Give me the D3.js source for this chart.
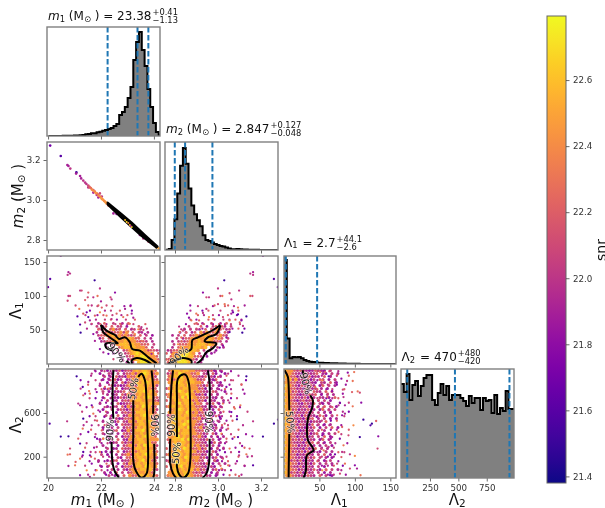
<!DOCTYPE html>
<html><head><meta charset="utf-8">
<script src="https://cdn.jsdelivr.net/npm/d3@7/dist/d3.min.js"></script>
<style>html,body{margin:0;padding:0;background:#fff;overflow:hidden}svg{display:block;font-family:"DejaVu Sans",sans-serif;filter:blur(.35px)}</style>
</head><body><svg id="c" width="605" height="508"></svg>
<script>
// ---------- tick labels ----------
const m1Ticks=[20,22,24], m2Ticks=[2.8,3.0,3.2], l1Ticks=[50,100,150], l2Ticks=[200,600], l2BottomTicks=[250,500,750];
const snrTicks=[21.4,21.6,21.8,22.0,22.2,22.4,22.6];
// ---------- histogram bin heights ----------
const m1Hist=[.1,.1,.1,.1,.1,.2,.2,.3,.3,.4,.5,.7,1,1.7,2,2.7,2.7,3.7,4.3,5.3,6,7,8,10,12,21,24,29,38,49,76,94,104,86,70,47,29,13,4,1];
const m2Hist=[.3,1,10,31,57,85,103,87,62,45,36,30,24,15,10,9,7.5,6,5,4,3.5,2.5,1.5,.7,.7,1,.7,.5,.4,.3,.3,.3,.3,.1,.1,.1,.1,.1,.1,.1];
const l1Hist=[105,25.7,5.7,7,6.7,7,5.7,4,3,2.3,2,1.7,1.3,1.3,1,1,.8,.7,.7,.6,.5,.4,.3,.3,.2,.2,.2,.1,.1,.1,0,0,0,0,0,0,0,0,0,0];
const l2Hist=[94,86,104,78,93,97,82,92,100,103,103,78,73,85,94,83,92,78,83,83,83,80,77,72,82,75,80,80,68,80,77,78,65,83,64,70,67,87,69,69];
// ---------- credible-interval markers ----------
const m1Quant=[22.25,23.38,23.79], m2Quant=[2.799,2.847,2.974], l1Quant=[.1,2.7,46.8], l2Quant=[50,470,950];
// ---------- sparse samples: [x, y, snr] ----------
const m1m2Points=[[20.08,3.272,21.7],[20.48,3.22,21.6],[20.73,3.175,21.9],[20.77,3.17,21.9],[20.84,3.157,22.0],[21.07,3.138,21.5],[21.06,3.132,21.9],[21.21,3.12,21.9],[21.25,3.108,21.9],[21.33,3.097,22.0],[21.4,3.087,22.0],[21.52,3.072,22.1],[21.58,3.062,22.3],[21.65,3.053,22.4],[21.71,3.05,22.1],[21.77,3.042,22.3],[21.84,3.033,22.4],[21.84,3.025,22.0],[21.9,3.025,22.4],[21.96,3.017,22.5],[22.03,3.017,22.0],[22.03,3.005,22.4],[22.09,3.0,22.5],[22.15,2.992,22.5],[22.21,2.983,22.4],[22.28,2.972,22.3],[21.52,3.063,22.0],[21.71,3.037,21.9],[21.9,3.013,21.9],[22.47,2.933,21.9],[22.59,2.93,21.8],[23.47,2.825,21.9],[23.6,2.808,22.0],[23.79,2.792,22.1],[24.1,2.763,22.5],[24.19,2.758,22.5],[21.96,3.033,22.1],[21.62,3.06,22.3],[21.74,3.044,22.4],[21.87,3.03,22.3],[22.0,3.012,22.45],[21.45,3.08,22.0],[21.56,3.066,22.2],[21.68,3.05,22.4],[21.8,3.035,22.45],[21.93,3.02,22.4],[22.06,3.004,22.45],[22.12,2.995,22.4],[22.18,2.988,22.45]];
const m1m2Core=[[22.91,2.9,22.6],[22.97,2.89,22.7],[23.03,2.885,22.4],[23.09,2.875,22.6],[23.16,2.865,22.7],[23.12,2.87,22.0]];
const m1l1Points=[[20.48,159,21.8],[20.08,125,21.6],[20.77,135,21.9],[20.74,131,22.0],[20.83,133,22.0],[20.0,113,21.7],[21.76,123,21.5],[21.21,108,22.0],[21.27,108,22.1],[21.52,105,22.2],[21.96,111,22.0],[22.53,105,21.8],[20.77,100,22.0],[20.83,100,22.1],[20.74,93,22.1],[21.5,98,22.1],[21.4,94,22.2],[21.71,98,22.0],[21.87,100,22.3],[22.0,92,21.9],[22.36,98,22.1],[22.4,95,22.0],[21.04,86,22.1],[21.18,81,22.3],[21.52,86,22.2],[21.65,86,22.0],[21.9,86,22.2],[22.03,83,22.2],[22.21,86,22.1],[22.91,81,21.9],[23.12,86,21.8],[21.11,70,21.6],[21.21,58,21.6],[21.23,46,21.5],[21.33,74,22.2],[21.46,76,21.7],[21.52,69,21.6],[21.58,64,21.9],[21.65,59,22.1],[21.4,61,22.1],[21.77,71,22.2],[21.96,76,22.4],[22.21,71,22.3],[22.4,66,22.0],[22.59,74,22.2],[22.84,69,22.3],[23.16,74,21.9],[23.22,68,21.9],[23.09,59,22.3],[22.72,59,22.2],[23.47,47,22.0],[23.53,54,22.0],[23.6,50,22.1],[23.41,51,22.4],[23.66,44,21.9],[23.53,34,22.3],[23.79,20,22.0],[23.91,15,21.9],[21.71,44,21.8],[21.77,34,21.9],[21.96,22,21.8],[22.09,17,21.9],[22.28,15,21.7],[22.47,7,22.1],[22.84,5,22.0],[23.41,39,22.2],[23.28,44,22.4],[23.03,48,22.3]];
const m2l1Points=[[3.209,159,21.8],[3.26,125,21.6],[3.15,133,22.0],[3.163,135,21.9],[3.163,131,22.0],[3.278,113,21.7],[3.029,123,21.5],[3.0,111,22.0],[3.098,108,22.0],[2.93,105,21.8],[2.946,98,22.1],[2.958,98,22.0],[3.011,100,22.1],[3.02,100,22.3],[3.054,104,22.1],[3.15,100,22.2],[3.16,100,22.1],[3.062,95,22.0],[2.871,86,21.8],[2.946,81,22.0],[2.984,86,22.2],[3.0,88,22.1],[3.031,88,22.3],[3.047,86,22.2],[3.093,83,22.3],[3.124,86,21.9],[2.856,74,21.8],[2.865,68,21.8],[2.899,74,22.3],[2.93,75,22.0],[3.07,76,21.7],[3.093,73,21.6],[3.132,70,21.5],[3.109,64,21.8],[3.113,46,21.5],[3.116,56,22.0],[3.101,61,22.2],[2.819,55,22.0],[2.829,51,22.0],[2.837,49,22.1],[2.822,47,22.4],[2.853,46,22.2],[2.876,64,22.3],[2.891,59,22.2],[2.912,64,22.2],[2.958,69,22.4],[2.977,66,22.3],[3.023,69,22.1],[3.054,64,22.4],[3.062,74,21.9],[3.039,39,21.8],[3.054,47,21.6],[3.023,27,21.8],[3.008,24,21.7],[2.984,17,21.9],[2.946,15,21.8],[2.829,39,22.3],[2.814,29,22.4],[2.853,22,21.9],[2.783,17,22.0],[2.806,15,21.8],[2.772,7,22.1]];
const m1l2Points=[[20.06,502,21.6],[20.48,384,21.5],[20.77,387,21.5],[20.72,524,22.0],[21.08,936,21.5],[21.31,838,21.6],[21.23,823,22.0],[21.33,762,22.2],[21.55,801,22.3],[21.58,777,22.3],[21.52,884,21.9],[21.65,960,22.0],[21.77,990,21.9],[21.21,670,21.9],[21.14,686,22.0],[21.65,670,21.7],[21.33,548,21.5],[21.31,457,22.3],[21.46,518,22.0],[21.65,487,21.9],[21.77,533,22.1],[21.52,426,21.7],[21.77,380,21.8],[21.9,625,21.9],[22.03,716,21.8],[21.84,792,21.8],[21.96,869,22.0],[22.09,945,21.9],[22.15,838,22.2],[20.83,274,22.1],[20.83,222,22.2],[20.74,219,22.3],[21.33,243,21.6],[21.31,213,21.8],[21.58,213,21.7],[21.21,320,21.6],[21.14,365,22.2],[21.21,182,22.3],[21.04,152,22.2],[21.02,121,22.3],[20.77,115,21.9],[21.61,243,22.0],[21.65,136,21.8],[21.21,30,21.8],[21.58,15,21.9],[21.84,75,22.4],[21.9,152,21.9],[21.96,243,22.3],[21.84,289,22.0],[22.09,365,22.4],[22.15,45,21.9],[22.03,441,22.2],[22.21,655,22.0],[22.13,564,21.8],[21.96,335,22.1],[21.77,182,22.2],[22.21,136,22.2],[22.28,823,22.3],[22.28,914,21.9],[21.71,594,22.3],[21.46,75,22.4]];
const m2l2Points=[[3.132,936,21.5],[2.771,936,22.2],[2.767,746,22.3],[3.279,539,21.6],[3.163,524,22.0],[3.26,502,21.5],[3.088,542,21.5],[3.16,387,21.8],[3.209,384,21.5],[3.093,380,21.6],[3.076,380,22.2],[3.112,298,21.8],[3.147,274,22.2],[3.098,243,21.8],[3.163,121,21.6],[3.158,204,22.0],[3.132,222,22.3],[3.124,115,21.9],[3.098,213,22.0],[3.098,21,22.2],[3.082,136,22.0],[3.062,777,22.2],[3.07,899,22.1],[3.109,862,22.2],[3.116,814,21.9],[3.104,670,22.3],[3.062,609,21.7],[3.078,640,22.3],[3.047,960,22.0],[3.039,838,21.8],[3.047,716,22.0],[3.031,899,22.1],[3.016,808,21.9],[3.023,686,22.3],[3.008,564,21.7],[3.031,502,22.1],[3.047,457,22.2],[3.016,411,22.4],[3.0,380,21.8],[3.039,335,22.0],[3.054,274,22.3],[3.008,259,21.7],[3.023,182,22.1],[3.047,121,22.3],[3.016,91,22.4],[2.992,45,21.9],[3.054,30,22.2],[2.984,899,21.9],[3.0,930,22.1],[2.992,746,22.0],[3.016,975,21.8],[2.984,167,22.2],[2.992,457,22.1],[2.984,594,22.0],[2.771,152,22.2],[2.767,30,22.4]];
const l1l2Points=[[90,969,21.8],[99,975,22.3],[63,936,21.6],[75,945,22.2],[51,975,22.3],[58,975,22.2],[81,914,21.8],[89,893,22.0],[97,893,22.3],[72,878,21.9],[68,801,21.8],[83,814,22.1],[96,792,22.2],[104,798,22.3],[107,786,22.1],[84,746,22.0],[61,746,22.2],[109,695,21.8],[97,661,22.3],[86,670,21.9],[79,691,21.7],[77,670,22.0],[75,579,22.2],[82,579,21.8],[86,594,21.9],[112,539,21.5],[130,527,22.2],[124,502,21.5],[122,487,21.6],[98,487,22.4],[82,472,22.2],[77,426,22.3],[91,396,22.1],[107,380,21.5],[133,387,21.8],[132,274,22.1],[84,304,22.3],[68,380,21.9],[63,289,22.0],[72,222,21.7],[54,396,21.8],[56,258,22.3],[82,243,22.0],[81,197,22.2],[100,207,22.4],[93,222,22.0],[75,136,22.1],[68,121,21.9],[86,136,22.3],[93,91,22.1],[100,121,21.8],[103,91,21.9],[108,30,22.3],[79,45,22.1],[65,30,21.7],[54,75,22.4],[49,167,22.0],[46,564,21.8],[54,640,22.3],[63,625,22.1],[44,838,22.3],[54,899,22.4],[49,716,22.2]];
// ---------- dense samples: rows of SNR levels on a read-off grid ('.' = no sample) ----------
const snrLevels=[21.5,21.65,21.75,21.85,21.95,22.05,22.2,22.45,22.58,22.72];
const m1l1Grid=["..4.6..5..4.6..........",".5.46.6.55.3...6.......","..656.6756.6.45.5......",".4.667566757.6.54.4....","..5667786767656.6.5.3..","..36.67787778766.5.4...","...4566787787776565.4..","....3.5678887877666.5..",".....4.5.6788887776.5..","......3.5.5678888776654",".......3.4.5678988777.6",".........3.56688998776.","..........3.46789998776","...........4.5.89998776"];
const m2l1Grid=["..........6.4..5..4.6..",".......5...6.3.56.64.5.","......4.5.54.6.6576.45.","....3.5.46.7576675.64..","..4.5.6.56767876.6765..","...5.46677877687676.5..","..4.565677787787665.4..","..5.6667878887876.5....","..4.6777888878.6.5.4...","45667788887.5.5.3......","6.77788987.5.4.3.......",".67789988665.3.........","67789998764.3..........","67789998.5.4..........."];
const m1l1Sparse=["......5....6...3.5..","...2....4.5..6...2..","..5...3.6..5..4.6...",".....4..5.6.3..5..6.","....3..6.4..5.6.4.5...6","..4...5.3.6..4.5.6..3.5"];
const m2l1Sparse=["......5....3...6..4...","...4...2.6...5...3.6..","......6.4..5.3..6..2..","...5.3...6.4..5.3.6.4.","..3...5.6..3.6.4.5..5.",".5.4.6.3..5.4.6..3.6.2"];
const m1l2Grid=[".4.3.54635657878877 6.","3..54.5.46675789876 7.","..5.4.6453766887877 5.",".3.4.635.4576788786 6.","...3.54.636678789877 7.","4...635346765887877 5.","..3.4.6.35577788876 6.",".5.3.4456.667889787 6.","...4.35.6475678788 7 7.",".3..5436456768789866 5.","...5.34.5657788787 7 65","4...3.6345667788787 7 7.","...3.45.6375687988 6 6.",".3..5.465367778787 7 5.","...4..3.5656688887 7 6.","..5.3.6.4576778978 6 7.","....4.5346657878876 6 .",".4...36.54776887987 5.","...5..3.6556778878 6 6.",".3..4.5.4667687887 7 7.","...3.56.34757889787 6.",".5..3.4.6566778788 6 5.","...4..5.36576878987 6.","3...5.6.43767887877 7.","....345.64657788786 6.",".4....3.5677687988 7 5.","...5.34.6556788787 7 6.","..3.4.6.3567678878 6 6.",".5.3..4.5675787898 7 7.","....4.53.6667887877 5.","4..3.56.45576789786 6.","....5.3.6476787887 7 6.",".3.4..5.36657887987 7.","....5.4.5367678878 6 5.","..4.3.6.5.5678778 7 6.","...5.34.6.76688787 7 6."].map(s=>s.replace(/ /g,""));
const m2l2Grid=[".6788788776655463.4.","56879877667.54.63..3",".7788978766546.53.4.","6767887887556.436...",".778987888776.54.53.",".6878879776646.5.34.","57788788777563.4.4..",".6879878867654.65..3","67787889775463.5.4..",".7887979876665.43.5.","6.788788767563.54..4",".77897888676.546.3..","67887878776654.35.4.",".6789878876745.3.6..",".7788879767564.53.4.","5678878877656.43.5..",".7798887766745.6..3.","678787897765.463.4..",".7887898776563.54...","6.788879766746.35.4.",".678978877656.5.4.3.","57887888776645.63...",".7789787866753.4.5.4","67888979766546.5.3..",".6787887776654.36.4.",".7798878867564.5.3..","6.788798766746.3.5.4",".77887888756 53.64..","67897878766645.5.3..",".7888798777563.46.4.","5678787886765.4.53..",".7798887766546.3.5.4","6.788978776654.53...",".6887878867563.46.4.",".77897887656 45.3.5.","67788798766 6.54.3.."].map(s=>s.replace(/ /g,""));
const l1l2Grid=["8776565434654 3.5.","77654365456.43.5.4","8766356463 54.6.4.","7857454635.65.3.5.","77664536543.54.6.3","8765365464.36.5.4.","8766453654 5.4.3..","77564563.6 54.6.5.","87664354656.3.5.4.","7765546364.54.3.6.","876535645 6.4.5.3.","77664365 46.53.4..","8766545635.4.6.5.3","7856354654.36.4.5.","87664546 35.5.4.3.","77656364 54.6.3.5.","8765453656.4.5.3.4","7766354635 54.6...","87564654 36.5.3.4.","7766453546.3.5.6.3","87656346 54.5.4...","7765454635 6.3.4.5","87663546 45.5.6.3.","7756463554.36.4...","87654536 46.5.3.5.","77663546 54.4.5.3.","8765453635 6.5.4..","77564636 54.3.5.4.","8766354654.5.6.3..","77654536 46.5.4.3.","8756463554.6.3.5..","77663545 36.4.5.4.","87654636 54.5.3...","7766354546.3.6.5.4","87564636 45.5.3.4.","77654536 54.6.5.3."].map(s=>s.replace(/ /g,""));
const m1l2Sparse=["......3..5.4","....4...6.3.",".2....5.4..6","...6...3..5.","......4.6.3.","..3.....5..4","....5.2..6.3",".......4.3.5","...3.6...5.4",".5.....3.6..","....2.5..4.6","......6.3..5","..4....5.6.3","....6...4.2.",".3....5..3.6","......2.6.4.","...5....3.5.","..6..3...4.6","......5.2..3",".4..6...5.4.","....3..6.3.5","..5....4..6.","......3.5.3.","...4.6...2.4"];
const m2l2Sparse=["4.5..3......",".3.6...4....","6..4.5....2.",".5..3...6...",".3.6.4......","4..5.....3..","3.6..2.5....","5.3.4.......","4.5...6.3...","..6.3.....5.","6.4..5.2....","5..3.6......","3.6.5....4..",".2.4...6....","6.3..5....3.",".4.6.2......",".5.3....5...","6.4...3..6..","3..2.5......",".4.5...6..4.","5.3.6..3....",".6..4....5..",".3.5.3......","4.2...6.4..."];
const l1l2Sparse=["5.3.6..4....",".4..5.3...6.","3.6...5.....",".5.4..2..3..","6..3.5...6..",".4.6....3...","5..2.4.6....",".3.5...3..5.","6.4..6......","..3.5...4.2.","4.6..3...5..",".5..2.6.....","3.4.5...3...",".6..3.4...6.","5.2.6...5...",".4..3..2....","6.5...4...3.",".3.6.5......","4..3...6.5..",".5.2.4......","6..5...3....",".3.4.6..2...","5..6....4...",".4.3.5...3.."];
// ---------- 50 % / 90 % contours ----------
const m1l1Contour90=[[22.0,57.4],[22.21,49],[22.53,42.6],[22.68,36.8],[22.91,39.2],[23.09,31.9],[23.18,22],[23.47,19.6],[23.79,9.8],[24.1,1]];
const m1l1Contour90b=[[22.0,57.4],[22.09,46.6],[22.34,39],[22.59,31.9],[22.63,30.4],[22.19,30.4],[22.19,24.5],[22.47,19.6]];
const m1l1Contour90c=[[22.97,4.9],[23.09,0]];
const m1l1Contour50=[[23.18,0],[23.16,4.9],[23.35,8.8],[23.66,5.9],[23.91,0]];
const m2l1Contour90=[[3.011,57.4],[2.977,50],[2.938,44],[2.907,39.2],[2.881,35.3],[2.876,22],[2.860,18.6]];
const m2l1Contour90b=[[3.011,56.4],[2.992,44],[2.953,39.2],[2.938,33.3],[2.992,30.4],[2.977,23.5],[2.946,17.2],[2.922,5.9],[2.899,0]];
const m2l1Contour50=[[2.876,0],[2.876,4.9],[2.837,8.8],[2.791,3.9],[2.767,0]];
const m1m2Contour=[[22.25,2.988],[22.78,2.93],[23.16,2.888],[23.66,2.825],[24.14,2.767],[24.10,2.762],[23.53,2.82],[23.03,2.88],[22.72,2.918],[22.25,2.977]];
const m1l2Left90=[[22.47,991],[22.44,838],[22.44,686],[22.47,548]];
const m1l2Left90b=[[22.40,335],[22.44,136],[22.53,60],[22.68,8]];
const m1l2Right90=[[23.91,991],[23.97,838],[23.97,594]];
const m1l2Right90b=[[24.01,319],[24.01,45],[23.97,8]];
const m1l2In50=[[23.22,716],[23.22,411],[23.22,167],[23.31,75],[23.53,8],[23.72,45],[23.78,167],[23.76,411],[23.72,716],[23.66,900],[23.53,960],[23.41,930]];
const m2l2Left90=[[2.791,991],[2.783,838],[2.778,625],[2.778,594]];
const m2l2Left90b=[[2.778,365],[2.778,136],[2.791,45],[2.806,5]];
const m2l2Right90=[[2.953,991],[2.961,869],[2.961,625]];
const m2l2Right90b=[[2.961,365],[2.958,136],[2.946,45],[2.927,5]];
const m2l2In50a=[[2.809,381],[2.809,716],[2.814,915],[2.840,955],[2.852,945],[2.865,869],[2.871,564],[2.871,167],[2.860,45],[2.837,8],[2.819,39],[2.809,106],[2.809,136]];
const l1l2In50a=[[1,991],[5.6,930],[6.6,860],[7.5,625]];
const l1l2In50b=[[7.5,411],[6.6,8]];
const l1l2Out90a=[[26.3,991],[27.7,945]];
const l1l2Out90b=[[37,762],[40.8,716],[39.4,640],[33.8,548],[33.8,350],[39.4,295],[41.8,258],[32.4,213],[31,75],[27.7,5]];
// ---------- contour labels: [x, y, text, rotation] ----------
const m1l1Labels=[[22.59,17,"90%",50]], m2l1Labels=[[2.819,12,"90%",-45]];
const m1l2Labels=[[22.34,441,"90%",-88],[24.04,487,"90%",90],[23.22,823,"50%",-80]];
const m2l2Labels=[[2.783,487,"90%",-90],[2.958,518,"90%",90],[2.806,234,"50%",-85]];
const l1l2Labels=[[8.9,518,"50%",85],[31,869,"90%",75]];

// ---------- scales ----------
const svg=d3.select("#c");
const colL=[47,165,284,401], colR=[160,278,396,514], rowT=[27,142,256,369], rowB=[136,250,364,478];
const xM1=d3.scaleLinear([19.96,24.23],[47,160]), xM2=d3.scaleLinear([2.7535,3.279],[165,278]);
const xL1=d3.scaleLinear([.1,158],[284,396]), xL2=d3.scaleLinear([-5,990],[401,514]);
const yM2=d3.scaleLinear([2.75,3.29],[250,142]), yL1=d3.scaleLinear([0,158.8],[364,256]), yL2=d3.scaleLinear([5,1003],[478,369]);
const color=d3.scaleSequential([21.38,22.794],d3.interpolatePlasma);
const defs=svg.append("defs");
let clipId=0;
function panel(c,r){
  const id="clip"+(clipId++);
  defs.append("clipPath").attr("id",id).append("rect").attr("x",colL[c]).attr("y",rowT[r]).attr("width",colR[c]-colL[c]).attr("height",rowB[r]-rowT[r]);
  const g=svg.append("g");
  return {g,inner:g.append("g").attr("clip-path",`url(#${id})`),c,r};
}
function frame(p,xs,ys,xt,yt,xlab,ylab,xf,yf){
  const g=p.g;
  g.append("g").attr("transform",`translate(0,${rowB[p.r]})`)
    .call(d3.axisBottom(xs).tickValues(xt).tickSize(3.5).tickPadding(3).tickFormat(xlab?xf:""));
  if(ys){g.append("g").attr("transform",`translate(${colL[p.c]},0)`)
    .call(d3.axisLeft(ys).tickValues(yt).tickSize(3.5).tickPadding(3).tickFormat(ylab?yf:""));}
  g.selectAll(".domain").remove();
  g.selectAll(".tick line").attr("stroke","#444").attr("stroke-width",.8);
  g.selectAll(".tick text").attr("font-size",8.7).attr("font-family","DejaVu Sans").attr("fill","#333");
  g.append("rect").attr("x",colL[p.c]).attr("y",rowT[p.r]).attr("width",colR[p.c]-colL[p.c]).attr("height",rowB[p.r]-rowT[p.r])
    .attr("fill","none").attr("stroke","#808080").attr("stroke-width",1.4);
}
function scatter(p,pts,xs,ys,r=1.15){
  p.inner.selectAll(null).data(pts).join("circle").attr("cx",d=>xs(d[0])).attr("cy",d=>ys(d[1])).attr("r",r).attr("fill",d=>color(d[2]));
}
// samples held on a staggered read-off lattice: odd rows sit half a cell to the right
function grid(p,rows,xs,ys,x0,dx,y0,dy,rDense=2,rLight=1.5){
  const cells=[];
  rows.forEach((row,j)=>{[...row].forEach((ch,i)=>{if(ch!==".")cells.push([x0+(i+(j%2?1:.5))*dx,y0-(j+.5)*dy,snrLevels[+ch],+ch]);});});
  p.inner.selectAll(null).data(cells).join("circle")
    .attr("cx",d=>xs(d[0])).attr("cy",d=>ys(d[1])).attr("r",d=>d[3]>=7?rDense:rLight).attr("fill",d=>color(d[2]));
}
function contour(p,pts,xs,ys,curve=d3.curveCatmullRom,close=false){
  const l=d3.line().x(d=>xs(d[0])).y(d=>ys(d[1])).curve(curve);
  p.inner.append("path").attr("d",l(pts)+(close?"Z":"")).attr("fill",close?"#000":"none").attr("stroke","#000").attr("stroke-width",2).attr("stroke-linejoin","round");
}
function clabels(p,labs,xs,ys){
  labs.forEach(d=>{
    p.inner.append("text").attr("transform",`translate(${xs(d[0])},${ys(d[1])}) rotate(${d[3]})`)
      .attr("text-anchor","middle").attr("dy",".35em").attr("font-size",10).attr("fill","#222")
      .attr("stroke","#fff").attr("stroke-width",1.4).attr("stroke-opacity",.6).attr("paint-order","stroke").text(d[2]);
  });
}
function hist(p,vals,xs,start,step,quant){
  const ys=d3.scaleLinear([0,109],[rowB[p.r],rowT[p.r]]);
  const pts=vals.map((v,i)=>[start+i*step,v]); pts.push([start+vals.length*step,vals[vals.length-1]]);
  const area=d3.area().x(d=>xs(d[0])).y0(ys(0)).y1(d=>ys(d[1])).curve(d3.curveStepAfter);
  const line=d3.line().x(d=>xs(d[0])).y(d=>ys(d[1])).curve(d3.curveStepAfter);
  p.inner.append("path").attr("d",area(pts)).attr("fill","#808080");
  p.inner.append("path").attr("d",line(pts)).attr("fill","none").attr("stroke","#000").attr("stroke-width",2);
  p.inner.selectAll(null).data(quant).join("line").attr("x1",d=>xs(d)).attr("x2",d=>xs(d)).attr("y1",rowT[p.r]).attr("y2",rowB[p.r])
    .attr("stroke","#1f77b4").attr("stroke-width",2).attr("stroke-dasharray","5.5,2.5");
}
function mathLabel(t,sym,idx,sun,size){
  t.append("tspan").attr("font-style",sym==="m"?"italic":"normal").text(sym);
  t.append("tspan").attr("font-size",size*.7).attr("dy",size*.15).text(idx);
  if(sun){
    t.append("tspan").attr("dy",-size*.15).text(" (M");
    t.append("tspan").attr("font-size",size*.7).attr("dy",size*.15).text("\u2299");
    t.append("tspan").attr("dy",-size*.15).text(" )");
  } else t.append("tspan").attr("dy",-size*.15).text("\u200a");
}
function title(x,y,sym,idx,sun,val,up,lo){
  const t=svg.append("text").attr("x",x).attr("y",y).attr("font-size",12).attr("fill","#111");
  mathLabel(t,sym,idx,sun,12);
  t.append("tspan").text(" = "+val);
  const w=t.node().getComputedTextLength();
  svg.append("text").attr("x",x+w+1).attr("y",y-5).attr("font-size",8.3).attr("fill","#111").text("+"+up);
  svg.append("text").attr("x",x+w+1).attr("y",y+3.4).attr("font-size",8.3).attr("fill","#111").text("\u2212"+lo);
}
function axisLabel(x,y,rot,sym,idx,sun){
  const t=svg.append("text").attr("transform",`translate(${x},${y}) rotate(${rot})`).attr("text-anchor","middle").attr("font-size",15).attr("fill","#111");
  mathLabel(t,sym,idx,sun,15);
}
const f1=d3.format(".1f"), fd=d3.format("d");

// ---------- diagonal histograms ----------
let p=panel(0,0); hist(p,m1Hist,xM1,20.02,.1067,m1Quant); frame(p,xM1,null,m1Ticks,null,false);
p=panel(1,1); hist(p,m2Hist,xM2,2.758,.01312,m2Quant); frame(p,xM2,null,m2Ticks,null,false);
p=panel(2,2); hist(p,l1Hist,xL1,.1,3.95,l1Quant); frame(p,xL1,null,l1Ticks,null,false);
p=panel(3,3); hist(p,l2Hist,xL2,-5,24.9,l2Quant); frame(p,xL2,null,l2BottomTicks,null,true,false,fd);
// ---------- m1 vs m2 ----------
p=panel(0,1); scatter(p,m1m2Points,xM1,yM2,1.3); contour(p,m1m2Contour,xM1,yM2,d3.curveLinear,true); scatter(p,m1m2Core,xM1,yM2,1);
frame(p,xM1,yM2,m1Ticks,m2Ticks,false,true,null,f1);
// ---------- Lambda1 row ----------
p=panel(0,2); grid(p,m1l1Sparse,xM1,yL1,21.13,.1132,88.3,6.62,2,1.15); grid(p,m1l1Grid,xM1,yL1,21.62,.1132,61.8,4.41,1.9,1.4); scatter(p,m1l1Points,xM1,yL1);
[m1l1Contour90,m1l1Contour90b,m1l1Contour90c,m1l1Contour50].forEach(c=>contour(p,c,xM1,yL1)); clabels(p,m1l1Labels,xM1,yL1);
frame(p,xM1,yL1,m1Ticks,l1Ticks,false,true,null,fd);
p=panel(1,2); grid(p,m2l1Sparse,xM2,yL1,2.816,.01395,88.3,6.62,2,1.15); grid(p,m2l1Grid,xM2,yL1,2.7535,.01395,61.8,4.41,1.9,1.4); scatter(p,m2l1Points,xM2,yL1);
[m2l1Contour90,m2l1Contour90b,m2l1Contour50].forEach(c=>contour(p,c,xM2,yL1)); clabels(p,m2l1Labels,xM2,yL1);
frame(p,xM2,yL1,m2Ticks,l1Ticks,false,false);
// ---------- Lambda2 row ----------
p=panel(0,3); grid(p,m1l2Sparse,xM1,yL2,21.06,.1132,1003,41.2,2,1.15); grid(p,m1l2Grid,xM1,yL2,21.85,.1132,1003,27.5); scatter(p,m1l2Points,xM1,yL2);
[m1l2Left90,m1l2Left90b,m1l2Right90,m1l2Right90b,m1l2In50].forEach(c=>contour(p,c,xM1,yL2)); clabels(p,m1l2Labels,xM1,yL2);
frame(p,xM1,yL2,m1Ticks,l2Ticks,true,true,fd,fd);
p=panel(1,3); grid(p,m2l2Sparse,xM2,yL2,2.9837,.01395,1003,41.2,2,1.15); grid(p,m2l2Grid,xM2,yL2,2.7535,.01395,1003,27.5); scatter(p,m2l2Points,xM2,yL2);
[m2l2Left90,m2l2Left90b,m2l2Right90,m2l2Right90b,m2l2In50a].forEach(c=>contour(p,c,xM2,yL2)); clabels(p,m2l2Labels,xM2,yL2);
frame(p,xM2,yL2,m2Ticks,l2Ticks,true,false,f1);
p=panel(2,3); grid(p,l1l2Sparse,xL1,yL2,45,4.225,1003,41.2,2,1.15); grid(p,l1l2Grid,xL1,yL2,.1,4.225,1003,27.5); scatter(p,l1l2Points,xL1,yL2);
[l1l2In50a,l1l2In50b,l1l2Out90a,l1l2Out90b].forEach(c=>contour(p,c,xL1,yL2)); clabels(p,l1l2Labels,xL1,yL2);
frame(p,xL1,yL2,l1Ticks,l2Ticks,true,false,fd);
// ---------- titles and axis labels ----------
title(48,20,"m","1",true,"23.38","0.41","1.13");
title(166,133,"m","2",true,"2.847","0.127","0.048");
title(284,246.5,"\u039b","1",false,"2.7","44.1","2.6");
title(401.5,361,"\u039b","2",false,"470","480","420");
axisLabel(103,505,0,"m","1",true); axisLabel(221,505,0,"m","2",true);
axisLabel(340,505,0,"\u039b","1",false); axisLabel(458,505,0,"\u039b","2",false);
axisLabel(23,196,-90,"m","2",true); axisLabel(21,310,-90,"\u039b","1",false); axisLabel(21,424,-90,"\u039b","2",false);
// ---------- colour bar ----------
const yC=d3.scaleLinear([21.38,22.794],[483,16]);
const grad=defs.append("linearGradient").attr("id","plasma").attr("x1",0).attr("x2",0).attr("y1",1).attr("y2",0);
d3.range(0,1.001,.05).forEach(t=>grad.append("stop").attr("offset",t).attr("stop-color",d3.interpolatePlasma(t)));
const cb=svg.append("g");
cb.append("rect").attr("x",547).attr("y",16).attr("width",19).attr("height",467).attr("fill","url(#plasma)").attr("stroke","#666").attr("stroke-width",1);
const cax=cb.append("g").attr("transform","translate(566,0)").call(d3.axisRight(yC).tickValues(snrTicks).tickSize(3.5).tickPadding(3.5).tickFormat(f1));
cax.select(".domain").remove(); cax.selectAll(".tick line").attr("stroke","#444").attr("stroke-width",.8);
cax.selectAll(".tick text").attr("font-size",8.7).attr("font-family","DejaVu Sans").attr("fill","#333");
svg.append("text").attr("transform","translate(606,250) rotate(-90)").attr("text-anchor","middle").attr("font-size",14).attr("fill","#111").text("snr");
</script></body></html>
